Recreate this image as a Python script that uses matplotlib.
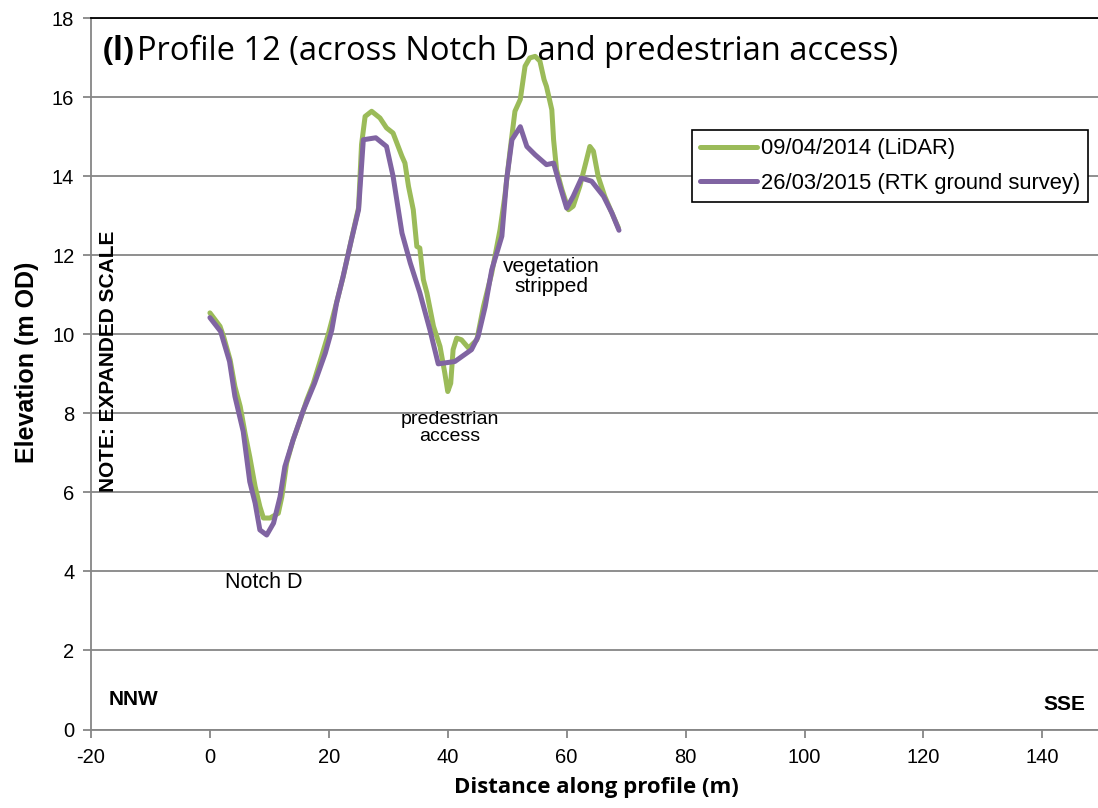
import matplotlib
matplotlib.use("Agg")
import matplotlib.pyplot as plt

plt.rcParams["axes.unicode_minus"] = False

# LiDAR 09/04/2014
lidar_x = [0.0, 1.7, 2.3, 3.4, 4.2, 5.1, 5.9, 6.7, 7.6, 8.4, 9.0, 10.1, 11.5, 12.1, 12.9,
           14.0, 15.2, 16.3, 17.4, 18.5, 20.0, 21.3, 22.4, 23.8, 25.0, 25.5, 26.1, 27.2,
           28.6, 29.7, 30.8, 32.3, 32.8, 33.4, 34.2, 34.8, 35.3, 35.9, 36.5, 37.6, 38.7,
           39.5, 40.0, 40.5, 40.9, 41.5, 42.3, 43.5, 44.9, 46.0, 47.4, 48.8, 49.6, 50.5,
           51.3, 52.2, 53.0, 53.8, 54.7, 55.5, 56.2, 56.6, 57.5, 57.8, 58.3, 59.2, 60.3,
           61.1, 62.2, 63.2, 63.9, 64.5, 65.3, 66.4, 67.6, 68.7]
lidar_y = [10.54, 10.2, 9.94, 9.35, 8.68, 8.17, 7.5, 6.9, 6.15, 5.64, 5.35, 5.35, 5.47, 5.89, 6.74,
           7.33, 7.84, 8.34, 8.76, 9.3, 10.05, 10.8, 11.45, 12.4, 13.2, 14.8, 15.51, 15.64,
           15.47, 15.22, 15.09, 14.5, 14.33, 13.74, 13.15, 12.22, 12.18, 11.38, 11.04, 10.2, 9.69,
           9.02, 8.55, 8.76, 9.61, 9.9, 9.86, 9.65, 9.86, 10.7, 11.55, 12.65, 13.49, 14.67,
           15.64, 15.94, 16.78, 16.99, 17.03, 16.91, 16.44, 16.27, 15.68, 14.92, 14.16, 13.66, 13.15,
           13.24, 13.74, 14.33, 14.75, 14.63, 13.99, 13.49, 13.07, 12.69]

# RTK ground survey 26/03/2015
rtk_x = [0.0, 1.8, 3.3, 4.2, 5.6, 6.7, 7.6, 8.4, 9.55, 10.7, 11.8, 12.6, 14.0, 15.7, 17.6,
         19.4, 20.5, 21.3, 22.4, 23.8, 25.0, 25.8, 27.9, 29.7, 30.8, 32.3, 33.7, 35.3, 37.0,
         38.4, 41.2, 44.0, 45.1, 46.3, 47.4, 49.1, 49.9, 50.8, 52.2, 53.3, 54.7, 56.6, 57.8,
         58.9, 60.0, 61.1, 62.5, 64.2, 66.2, 67.6, 68.8]
rtk_y = [10.42, 10.07, 9.31, 8.43, 7.54, 6.27, 5.73, 5.05, 4.92, 5.22, 5.89, 6.65, 7.33, 8.07, 8.76,
         9.52, 10.11, 10.79, 11.46, 12.39, 13.15, 14.92, 14.97, 14.75, 14.0, 12.56, 11.8, 11.05, 10.11,
         9.25, 9.31, 9.61, 9.94, 10.7, 11.63, 12.48, 13.91, 14.92, 15.25, 14.75, 14.54, 14.29, 14.33,
         13.74, 13.19, 13.49, 13.95, 13.87, 13.49, 13.07, 12.63]

x_ticks = [-20, 0, 20, 40, 60, 80, 100, 120, 140]
y_ticks = [0, 2, 4, 6, 8, 10, 12, 14, 16, 18]

GREEN = "#9BBB59"
PURPLE = "#8064A2"
GRID = "#868686"
ARIAL = "Liberation Sans"

fig = plt.figure(figsize=(10.98, 8.08), dpi=100)
ax = fig.add_axes([91/1098, 78.5/808, (1101.8-91)/1098, (729.5-18)/808])
ax.set_xlim(-20, 150)
ax.set_ylim(0, 18)

ax.plot(lidar_x, lidar_y, color=GREEN, lw=3.6, solid_joinstyle="round",
        solid_capstyle="round", label="09/04/2014 (LiDAR)", zorder=3)
ax.plot(rtk_x, rtk_y, color=PURPLE, lw=3.6, solid_joinstyle="round",
        solid_capstyle="round", label="26/03/2015 (RTK ground survey)", zorder=4)

ax.set_xticks(x_ticks)
ax.set_yticks(y_ticks)
ax.yaxis.grid(True, color=GRID, lw=1.3, zorder=1)
ax.set_axisbelow(True)
ax.spines["right"].set_visible(False)
ax.spines["top"].set_color("black")
ax.spines["top"].set_linewidth(1.3)
for s in ["left", "bottom"]:
    ax.spines[s].set_color(GRID)
    ax.spines[s].set_linewidth(1.3)
ax.tick_params(axis="both", direction="out", length=6, width=1.3, color=GRID,
               labelsize=14.5, labelcolor="black")
for lab in ax.get_xticklabels() + ax.get_yticklabels():
    lab.set_family(ARIAL)
ax.tick_params(axis="x", pad=7)
ax.tick_params(axis="y", pad=6)

ax.set_xlabel("Distance along profile (m)", fontsize=16, fontweight="bold",
              family="Open Sans")
ax.xaxis.set_label_coords(0.5, -(787 - 729.5) / 711.5)
ax.xaxis.label.set_va("center")
ax.set_ylabel("Elevation (m OD)", fontsize=18, fontweight="bold", family=ARIAL)
ax.yaxis.set_label_coords(-(91 - 27) / 1010.8, (729.5 - 362) / 711.5)
ax.yaxis.label.set_va("center")

ax.text(-18.1, 17.15, "(l)", fontsize=23.5, fontweight="bold", family="Open Sans",
        va="center", ha="left")
ax.text(-12.2, 17.15, "Profile 12 (across Notch D and predestrian access)", fontsize=23.5,
        family="Open Sans", va="center", ha="left")

ax.text(9.0, 3.73, "Notch D", fontsize=15.5, family=ARIAL, ha="center", va="center")
ax.text(40.3, 7.63, "predestrian\naccess", fontsize=14, family=ARIAL,
        ha="center", va="center", linespacing=1.05)
ax.text(57.4, 11.46, "vegetation\nstripped", fontsize=15, family=ARIAL,
        ha="center", va="center", linespacing=1.05)
ax.text(-17.0, (729.5 - 700) / 39.5, "NNW", fontsize=15, fontweight="bold", family=ARIAL,
        ha="left", va="center")
ax.text(147.3, (729.5 - 705) / 39.5, "SSE", fontsize=15, fontweight="bold", family=ARIAL,
        ha="right", va="center")
ax.text((108.5 - 209.9) / 5.946, (729.5 - 362) / 39.5, "NOTE: EXPANDED SCALE", fontsize=15,
        fontweight="bold", family=ARIAL, rotation=90, ha="center", va="center")

leg = ax.legend(loc="upper left", bbox_to_anchor=((692-91)/1010.8, (729.5-130)/711.5),
                prop={"family": ARIAL, "size": 15.8}, frameon=True,
                fancybox=False, edgecolor="black", framealpha=1, handlelength=2.6,
                handletextpad=0.15, borderpad=0.38, labelspacing=0.6, borderaxespad=0)
leg.get_frame().set_linewidth(1.2)

fig.savefig("out.png", dpi=100)
